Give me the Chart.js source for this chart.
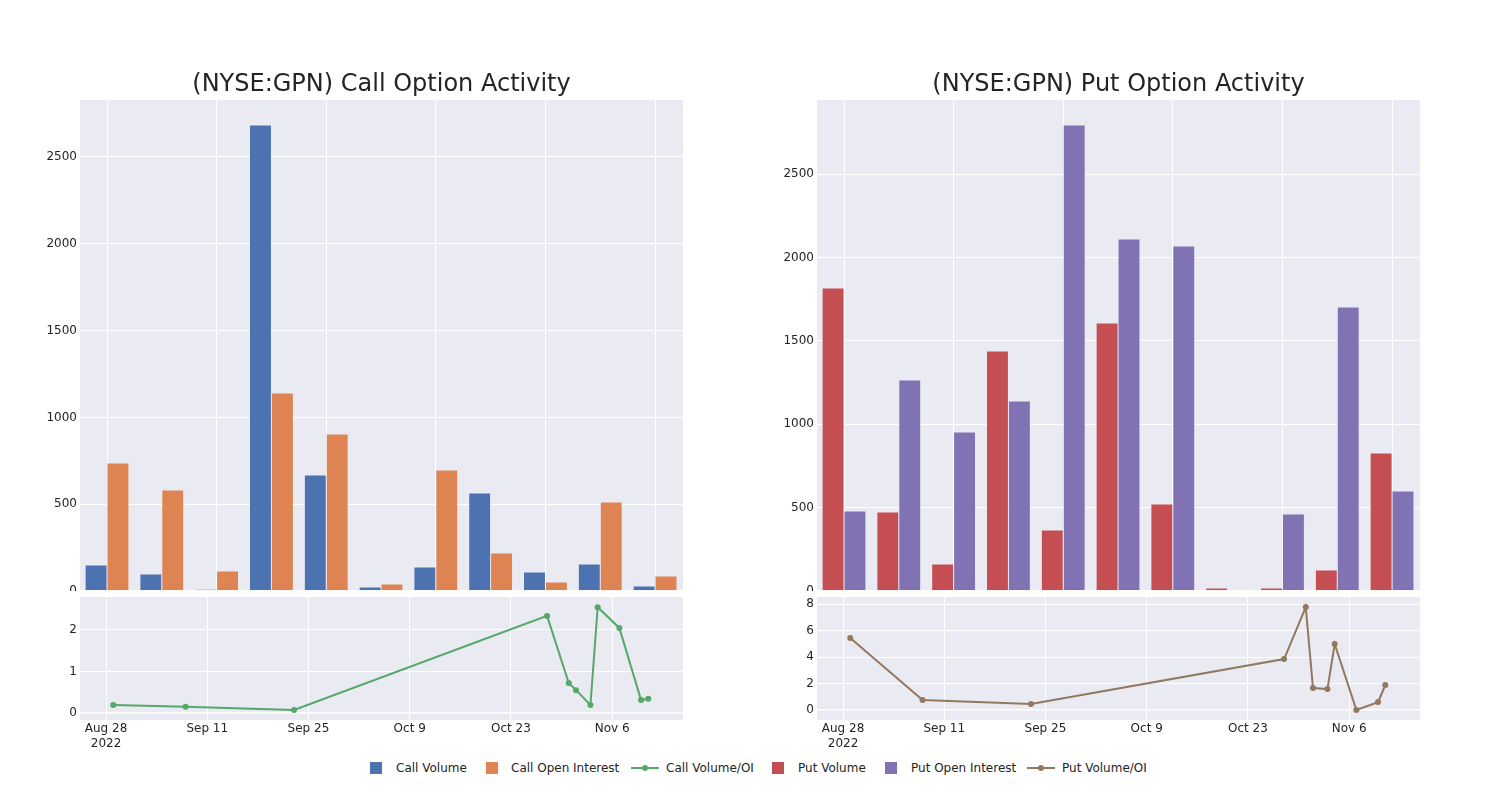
<!DOCTYPE html>
<html><head><meta charset="utf-8">
<script src="https://cdn.jsdelivr.net/npm/chart.js@4.4.0/dist/chart.umd.min.js"></script>
<style>
body{margin:0;background:#fff;width:1500px;height:800px;overflow:hidden;font-family:"DejaVu Sans";}
.w{position:absolute;}
.leg{position:absolute;font:12px "DejaVu Sans";color:rgb(36,36,36);top:761px;line-height:14px;white-space:nowrap;}
.sq{position:absolute;width:12px;height:12px;top:762px;}
.ln{position:absolute;width:28px;height:2px;top:767px;}
.dot{position:absolute;width:6px;height:6px;border-radius:50%;top:765px;}
</style></head><body>
<div class="w" style="left:0;top:0;width:700px;height:591px"><canvas id="c1"></canvas></div>
<div class="w" style="left:0;top:597px;width:700px;height:163px"><canvas id="c2"></canvas></div>
<div class="w" style="left:737px;top:0;width:700px;height:591px"><canvas id="c3"></canvas></div>
<div class="w" style="left:737px;top:597px;width:700px;height:163px"><canvas id="c4"></canvas></div>
<div id="legend"></div>
<script>
// ---------- DATA ----------
const barDates = ['2022-08-28','2022-09-04','2022-09-11','2022-09-18','2022-09-25','2022-10-02','2022-10-09','2022-10-16','2022-10-23','2022-10-30','2022-11-06'];
const callVolume = [150, 98, 10, 2684, 668, 23, 138, 565, 109, 156, 29];
const callOpenInterest = [737, 582, 115, 1141, 904, 40, 697, 219, 52, 513, 86];
const putVolume = [1817, 474, 162, 1439, 366, 1607, 522, 18, 18, 126, 827];
const putOpenInterest = [480, 1265, 953, 1139, 2794, 2110, 2068, 5, 462, 1703, 600];

const ratioDates = ['2022-08-29','2022-09-08','2022-09-23','2022-10-28','2022-10-31','2022-11-01','2022-11-03','2022-11-04','2022-11-07','2022-11-10','2022-11-11'];
const callVolOI = [0.19, 0.15, 0.07, 2.34, 0.72, 0.55, 0.19, 2.55, 2.05, 0.31, 0.34];
const putVolOI = [5.43, 0.75, 0.45, 3.85, 7.77, 1.66, 1.58, 4.98, 0.0, 0.6, 1.89];

const xTickDates = ['2022-08-28','2022-09-11','2022-09-25','2022-10-09','2022-10-23','2022-11-06'];
const xTickLabels = [['Aug 28','2022'],'Sep 11','Sep 25','Oct 9','Oct 23','Nov 6'];
const callBarTicks = [0, 500, 1000, 1500, 2000, 2500];
const putBarTicks = [0, 500, 1000, 1500, 2000, 2500];
const callRatioTicks = [0, 1, 2];
const putRatioTicks = [0, 2, 4, 6, 8];

// ---------- helpers ----------
const BASE = Date.UTC(2022,7,28);
function day(s){const [y,m,d]=s.split('-').map(Number);return (Date.UTC(y,m-1,d)-BASE)/86400000;}
const pts = (dates, vals) => dates.map((d,i)=>({x:day(d), y:vals[i]}));
const tickDays = xTickDates.map(day);
const TXT = 'rgb(36,36,36)';
const FONT = {family:'DejaVu Sans', size:12};

const bgPlugin = {id:'bg', beforeDraw(chart){const {ctx, chartArea:a}=chart; ctx.save(); ctx.fillStyle='#EAEAF2'; ctx.fillRect(a.left,a.top,a.right-a.left,a.bottom-a.top); ctx.restore();}};

function yAxis(min, max, ticks){
  return {type:'linear', min, max,
    afterBuildTicks: s => { s.ticks = ticks.map(v=>({value:v})); },
    afterFit: s => { s.width = 80; s.paddingTop = 0; s.paddingBottom = 0; },
    ticks:{font:FONT, color:TXT, padding:3, callback: v => String(v)},
    grid:{color:'#fff', lineWidth: c => (c.tick && c.tick.value===0) ? 1.5 : 1, drawTicks:false},
    border:{display:false}};
}

function barChart(id, title, d1, d2, c1, c2, ymax, yt){
  new Chart(document.getElementById(id), {
    type:'bar',
    data:{datasets:[
      {label:d1.label, data:pts(barDates,d1.values), backgroundColor:c1, borderColor:'rgba(234,234,242,0.9)', borderWidth:0.5},
      {label:d2.label, data:pts(barDates,d2.values), backgroundColor:c2, borderColor:'rgba(234,234,242,0.9)', borderWidth:0.5}
    ]},
    options:{responsive:true, maintainAspectRatio:false, animation:false,
      layout:{padding:{left:0,right:17,top:0,bottom:0}, autoPadding:false},
      categoryPercentage:0.8, barPercentage:1.0,
      plugins:{legend:{display:false}, tooltip:{enabled:false},
        title:{display:true, text:title, fullSize:false, color:TXT, font:{family:'DejaVu Sans', size:24, weight:'normal'}, padding:{top:70,bottom:1.2}}},
      scales:{
        x:{type:'linear', min:-3.45, max:73.57, offset:false,
          afterBuildTicks: s => { s.ticks = tickDays.map(v=>({value:v})); },
          afterFit: s => { s.height = 0; s.paddingLeft = 0; s.paddingRight = 0; },
          ticks:{display:false}, grid:{color:'#fff', offset:false, drawTicks:false}, border:{display:false}},
        y:yAxis(0, ymax, yt)
      }},
    plugins:[bgPlugin]
  });
}

function lineChart(id, label, vals, color, ymin, ymax, yt){
  new Chart(document.getElementById(id), {
    type:'line',
    data:{datasets:[{label, data:pts(ratioDates,vals), borderColor:color, backgroundColor:color, pointBackgroundColor:color, pointBorderColor:color, pointBorderWidth:0, borderWidth:2, pointRadius:3, pointHoverRadius:3, tension:0}]},
    options:{responsive:true, maintainAspectRatio:false, animation:false,
      layout:{padding:{left:0,right:17,top:0,bottom:0}, autoPadding:false},
      plugins:{legend:{display:false}, tooltip:{enabled:false}},
      scales:{
        x:{type:'linear', min:-3.6, max:79.8,
          afterBuildTicks: s => { s.ticks = tickDays.map(v=>({value:v})); },
          afterFit: s => { s.height = 40; s.paddingLeft = 0; s.paddingRight = 0; },
          ticks:{font:FONT, color:TXT, padding:2, maxRotation:0, autoSkip:false,
            callback:(v)=>{const i=tickDays.indexOf(v); return i>=0?xTickLabels[i]:'';}},
          grid:{color:'#fff', drawTicks:false}, border:{display:false}},
        y:yAxis(ymin, ymax, yt)
      }},
    plugins:[bgPlugin]
  });
}

barChart('c1','(NYSE:GPN) Call Option Activity',{label:'Call Volume',values:callVolume},{label:'Call Open Interest',values:callOpenInterest},'#4C72B0','#DD8452',2828,callBarTicks);
lineChart('c2','Call Volume/OI',callVolOI,'#55A868',-0.17,2.795,callRatioTicks);
barChart('c3','(NYSE:GPN) Put Option Activity',{label:'Put Volume',values:putVolume},{label:'Put Open Interest',values:putOpenInterest},'#C44E52','#8172B3',2944,putBarTicks);
lineChart('c4','Put Volume/OI',putVolOI,'#937860',-0.75,8.53,putRatioTicks);

// ---------- legend ----------
const legendItems = [
  {label:'Call Volume', color:'#4C72B0', kind:'sq', mx:370, tx:396},
  {label:'Call Open Interest', color:'#DD8452', kind:'sq', mx:486, tx:511},
  {label:'Call Volume/OI', color:'#55A868', kind:'ln', mx:631, tx:666},
  {label:'Put Volume', color:'#C44E52', kind:'sq', mx:772, tx:798},
  {label:'Put Open Interest', color:'#8172B3', kind:'sq', mx:885, tx:911},
  {label:'Put Volume/OI', color:'#937860', kind:'ln', mx:1027, tx:1062}
];
const lg = document.getElementById('legend');
legendItems.forEach(it=>{
  if(it.kind==='sq'){
    const s=document.createElement('div'); s.className='sq'; s.style.left=it.mx+'px'; s.style.background=it.color; lg.appendChild(s);
  } else {
    const l=document.createElement('div'); l.className='ln'; l.style.left=it.mx+'px'; l.style.background=it.color; lg.appendChild(l);
    const d=document.createElement('div'); d.className='dot'; d.style.left=(it.mx+11)+'px'; d.style.background=it.color; lg.appendChild(d);
  }
  const t=document.createElement('div'); t.className='leg'; t.style.left=it.tx+'px'; t.textContent=it.label; lg.appendChild(t);
});
</script>
</body></html>
